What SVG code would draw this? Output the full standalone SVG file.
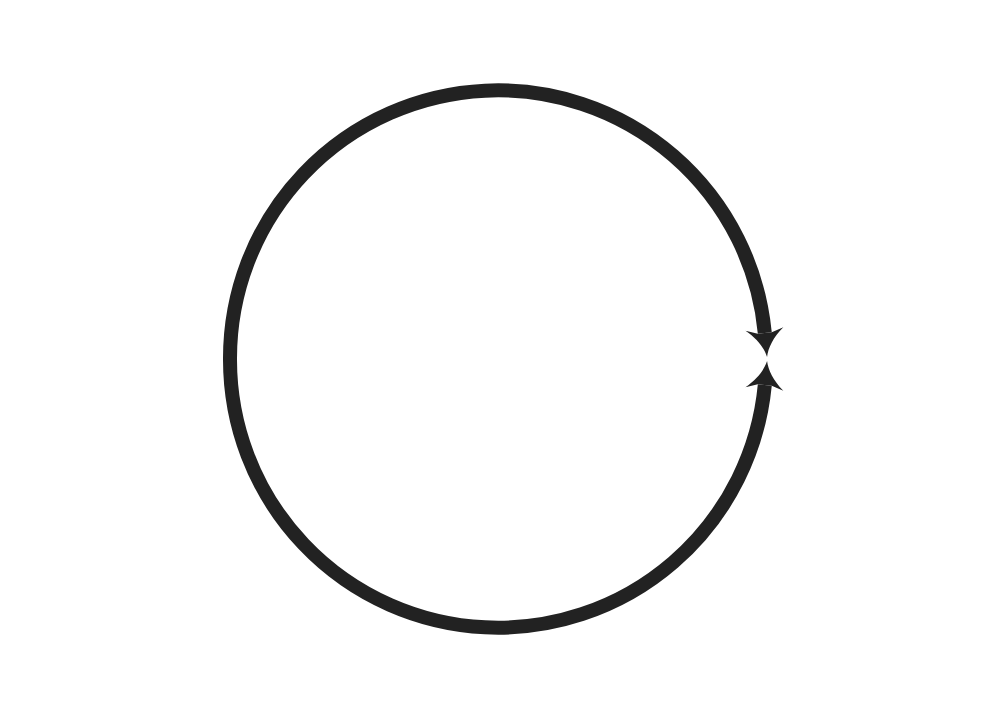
<svg xmlns="http://www.w3.org/2000/svg" width="1000" height="720" viewBox="0 0 1000 720">
  <style>
    .loop { fill: none; stroke: #222222; stroke-width: 14; }
  </style>
  <defs>
    <marker id="head" markerUnits="userSpaceOnUse" orient="auto" refX="0" refY="0" markerWidth="60" markerHeight="60" overflow="visible">
      <path d="M24,0 C15,-2 5,-8 -4,-19 L0,-7 L0,7 L-4,19 C5,8 15,2 24,0 Z" fill="#222222"/>
    </marker>
  </defs>
  <rect width="1000" height="720" fill="#ffffff"/>
  <g id="connectors">
    <path id="arc-top" class="loop" d="M230,359 A268,268 0 0 1 764.8,333" marker-end="url(#head)"/>
    <path id="arc-bottom" class="loop" d="M230,359 A268,268 0 0 0 764.8,385" marker-end="url(#head)"/>
  </g>
</svg>
